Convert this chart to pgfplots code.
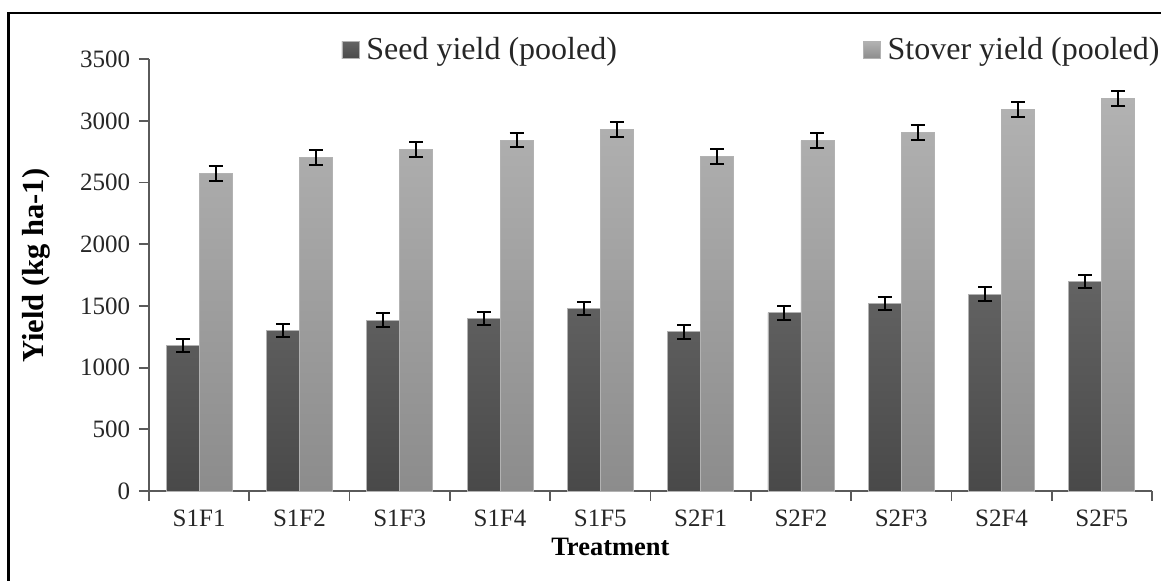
\documentclass[border=0pt]{standalone}
\usepackage{fontspec}
\setmainfont{Liberation Serif}
\usepackage{pgfplots}
\pgfplotsset{compat=1.18}
\usepackage{pgfplotstable}
\definecolor{darkT}{HTML}{636363}
\definecolor{darkB}{HTML}{494949}
\definecolor{lightT}{HTML}{B2B2B2}
\definecolor{lightB}{HTML}{8C8C8C}
\definecolor{axisgray}{HTML}{5A5A5A}
\pgfplotstableread{
x seed seederr stover stovererr
0 1180 55 2575 60
1 1300 55 2705 60
2 1385 55 2770 60
3 1400 55 2845 60
4 1480 55 2930 60
5 1290 55 2710 60
6 1445 55 2840 60
7 1520 55 2905 60
8 1595 55 3090 60
9 1700 55 3180 60
}\datatable
\begin{document}
\begin{tikzpicture}
\useasboundingbox (0,0) rectangle (464.4pt,232.4pt);
\draw[line width=1.1pt, black] (3.4pt,-2pt) -- (3.4pt,227.2pt) -- (470pt,227.2pt);
\begin{axis}[
  at={(59.6pt,36.0pt)}, anchor=south west,
  scale only axis, width=401.2pt, height=172.7pt,
  xmin=-0.5, xmax=9.5, ymin=0, ymax=3500,
  axis lines*=left,
  axis line style={axisgray, line width=0.7pt, -},
  ybar=0pt, bar width=13.2pt,
  xtick={0,...,9},
  xticklabels={S1F1,S1F2,S1F3,S1F4,S1F5,S2F1,S2F2,S2F3,S2F4,S2F5},
  xtick style={draw=none},
  extra x ticks={-0.5,0.5,...,9.5},
  extra x tick labels={},
  extra x tick style={xtick style={draw=axisgray, line width=0.7pt}},
  ytick={0,500,...,3500},
  tick align=outside,
  major tick length=4pt,
  ytick style={draw=axisgray, line width=0.7pt},
  /pgf/number format/assume math mode=true,
  /pgf/number format/1000 sep={},
  tick label style={font=\fontsize{10}{12}\selectfont, text=black!85},
  xlabel={Treatment},
  xlabel style={font=\fontsize{10.6}{12}\selectfont\bfseries, at={(axis description cs:0.46,-0.13)}, anchor=center},
  ylabel={Yield (kg ha-1)},
  ylabel style={font=\fontsize{12.2}{14}\selectfont\bfseries, at={(axis description cs:-0.1127,0.522)}, anchor=center, rotate=0},
  legend columns=2,
  legend style={draw=none, fill=none, inner sep=0pt, outer sep=0pt,
    at={(axis description cs:0.192,1.021)}, anchor=west,
    font=\fontsize{12.8}{14}\selectfont, text=black!85,
    nodes={inner sep=0pt},
    /tikz/column 1/.style={column sep=2.8pt},
    /tikz/column 2/.style={column sep=98.4pt},
    /tikz/column 3/.style={column sep=2.8pt}},
  legend cell align=left,
  clip=false,
]
\addplot[draw=gray!60, line width=0.3pt, top color=darkT, bottom color=darkB,
  legend image code/.code={\path[top color=darkT, bottom color=darkB] (0pt,-3.4pt) rectangle (6.8pt,3.4pt);},
  error bars/.cd, y dir=both, y explicit,
  error bar style={draw=black, line width=0.8pt},
  error mark options={rotate=90, mark size=2.8pt, line width=0.8pt, draw=black}]
  table[x=x, y=seed, y error=seederr]{\datatable};
\addlegendentry{Seed yield (pooled)}
\addplot[draw=gray!60, line width=0.3pt, top color=lightT, bottom color=lightB,
  legend image code/.code={\path[top color=lightT, bottom color=lightB] (0pt,-3.4pt) rectangle (6.8pt,3.4pt);},
  error bars/.cd, y dir=both, y explicit,
  error bar style={draw=black, line width=0.8pt},
  error mark options={rotate=90, mark size=2.8pt, line width=0.8pt, draw=black}]
  table[x=x, y=stover, y error=stovererr]{\datatable};
\addlegendentry{Stover yield (pooled)}
\end{axis}
\end{tikzpicture}
\end{document}
